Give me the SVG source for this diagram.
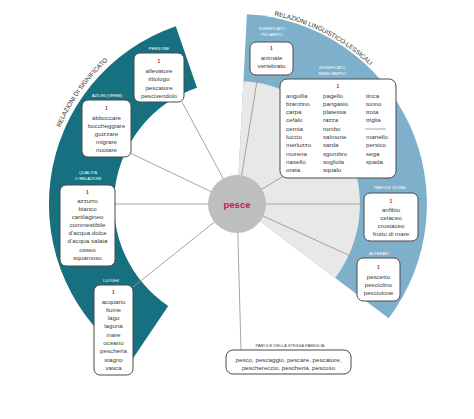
<svg xmlns="http://www.w3.org/2000/svg" width="474" height="419" viewBox="0 0 474 419">
<defs>
<style>
.box{fill:#fff;stroke:#4a4a4a;stroke-width:1}
.t{font-family:"Liberation Sans",Arial,sans-serif;font-size:6.2px;fill:#3a3a3a;text-anchor:middle}
.l{font-family:"Liberation Sans",Arial,sans-serif;font-size:6.2px;fill:#3a3a3a}
.n{font-family:"Liberation Sans",Arial,sans-serif;font-size:5px;fill:#c8102e;text-anchor:middle;font-weight:bold}
.lab{font-family:"Liberation Sans",Arial,sans-serif;font-size:4.2px;fill:#fff;text-anchor:middle}
.labd{font-family:"Liberation Sans",Arial,sans-serif;font-size:4.2px;fill:#444;text-anchor:middle}
.title{font-family:"Liberation Sans",Arial,sans-serif;font-size:6.3px;fill:#2a2a2a}
.conn{stroke:#9a9a9a;stroke-width:0.9;fill:none}
</style>
<path id="arcL" d="M59.4,129.4 A192,192 0 0 1 140.5,36.9"/>
<path id="arcR" d="M270.3,14.9 A192,192 0 0 1 384.1,80.6"/>
</defs>
<rect width="474" height="419" fill="#fff"/>
<g id="bands">
<path d="M131.9,359.9 A188,188 0 0 1 175.8,26.2 L197.0,87.7 A123,123 0 0 0 168.2,306.0 Z" fill="#16707f"/>
<path d="M237,204 L246.9,14.3 A190,190 0 0 1 388.7,318.3 Z" fill="#7eafcb"/>
<path d="M237,204 L243.4,81.2 A123,123 0 0 1 335.2,278.0 Z" fill="#e8e8e8"/>
<text class="title"><textPath href="#arcL" startOffset="2">RELAZIONI DI SIGNIFICATO</textPath></text>
<text class="title"><textPath href="#arcR" startOffset="4">RELAZIONI LINGUISTICO-LESSICALI</textPath></text>
</g>
<g id="connectors">
<path class="conn" d="M237,204 L182,102"/>
<path class="conn" d="M237,204 L130,153"/>
<path class="conn" d="M237,204 L115,204"/>
<path class="conn" d="M237,204 L133,287"/>
<path class="conn" d="M237,204 L241,350"/>
<path class="conn" d="M237,204 L258,75"/>
<path class="conn" d="M237,204 L282,177"/>
<path class="conn" d="M237,204 L364,204"/>
<path class="conn" d="M237,204 L357,259"/>
</g>
<g id="persone">
<text class="lab" x="159" y="49.5">PERSONE</text>
<rect class="box" x="134" y="53" width="50" height="49" rx="6"/>
<text class="n" x="159" y="63">1</text>
<text class="t" x="159" y="73">allevatore</text>
<text class="t" x="159" y="81">ittiologo</text>
<text class="t" x="159" y="89.5">pescatore</text>
<text class="t" x="159" y="98">pescivendolo</text>
</g>
<g id="azioni">
<text class="lab" x="107" y="97">AZIONI (VERBI)</text>
<rect class="box" x="82" y="100" width="49" height="57" rx="6"/>
<text class="n" x="106.5" y="110">1</text>
<text class="t" x="106.5" y="119.5">abboccare</text>
<text class="t" x="106.5" y="127.5">boccheggiare</text>
<text class="t" x="106.5" y="136">guizzare</text>
<text class="t" x="106.5" y="144">migrare</text>
<text class="t" x="106.5" y="152">nuotare</text>
</g>
<g id="qualita">
<text class="lab" x="88" y="173.5">QUALITÀ</text>
<text class="lab" x="88" y="179.5">O RELAZIONI</text>
<rect class="box" x="60" y="185" width="55" height="81" rx="6"/>
<text class="n" x="87.5" y="193.5">1</text>
<text class="t" x="87.5" y="202.5">azzurro</text>
<text class="t" x="87.5" y="210.5">bianco</text>
<text class="t" x="87.5" y="219">cartilagineo</text>
<text class="t" x="87.5" y="227">commestibile</text>
<text class="t" x="87.5" y="235">d’acqua dolce</text>
<text class="t" x="87.5" y="243">d’acqua salata</text>
<text class="t" x="87.5" y="251.5">osseo</text>
<text class="t" x="87.5" y="260">squamoso</text>
</g>
<g id="luoghi">
<text class="lab" x="111" y="281.5">LUOGHI</text>
<rect class="box" x="94" y="285" width="39" height="90" rx="6"/>
<text class="n" x="113.5" y="294">1</text>
<text class="t" x="113.5" y="303.5">acquario</text>
<text class="t" x="113.5" y="311.5">fiume</text>
<text class="t" x="113.5" y="320">lago</text>
<text class="t" x="113.5" y="328">laguna</text>
<text class="t" x="113.5" y="336.5">mare</text>
<text class="t" x="113.5" y="345">oceano</text>
<text class="t" x="113.5" y="353">pescheria</text>
<text class="t" x="113.5" y="361.5">stagno</text>
<text class="t" x="113.5" y="370">vasca</text>
</g>
<g id="piu-ampio">
<text class="lab" x="272" y="30">SIGNIFICATO</text>
<text class="lab" x="272" y="35.5">PIÙ AMPIO</text>
<rect class="box" x="250" y="42" width="43" height="33" rx="6"/>
<text class="n" x="271.5" y="50">1</text>
<text class="t" x="271.5" y="59.5">animale</text>
<text class="t" x="271.5" y="67.5">vertebrato</text>
</g>
<g id="meno-ampio">
<text class="lab" x="332" y="68.5">SIGNIFICATO</text>
<text class="lab" x="332" y="74.5">MENO AMPIO</text>
<rect class="box" x="280" y="79" width="116" height="99" rx="7"/>
<text class="n" x="338" y="87.5">1</text>
<text class="l" x="286" y="97.5">anguilla</text>
<text class="l" x="286" y="105.8">branzino</text>
<text class="l" x="286" y="114.1">carpa</text>
<text class="l" x="286" y="122.4">cefalo</text>
<text class="l" x="286" y="130.7">cernia</text>
<text class="l" x="286" y="139">luccio</text>
<text class="l" x="286" y="147.3">merluzzo</text>
<text class="l" x="286" y="155.6">murena</text>
<text class="l" x="286" y="163.9">nasello</text>
<text class="l" x="286" y="172.2">orata</text>
<text class="l" x="323" y="97.5">pagello</text>
<text class="l" x="323" y="105.8">pangasio</text>
<text class="l" x="323" y="114.1">platessa</text>
<text class="l" x="323" y="122.4">razza</text>
<text class="l" x="323" y="130.7">rombo</text>
<text class="l" x="323" y="139">salmone</text>
<text class="l" x="323" y="147.3">sarda</text>
<text class="l" x="323" y="155.6">sgombro</text>
<text class="l" x="323" y="163.9">sogliola</text>
<text class="l" x="323" y="172.2">squalo</text>
<text class="l" x="366" y="97.5">tinca</text>
<text class="l" x="366" y="105.8">tonno</text>
<text class="l" x="366" y="114.1">trota</text>
<text class="l" x="366" y="122.4">triglia</text>
<line x1="365" y1="129" x2="386" y2="129" stroke="#666" stroke-width="0.6"/>
<text class="l" x="366" y="139">martello</text>
<text class="l" x="366" y="147.3">persico</text>
<text class="l" x="366" y="155.6">sega</text>
<text class="l" x="366" y="163.9">spada</text>
</g>
<g id="parole-vicine">
<text class="lab" x="390" y="188.5">PAROLE VICINE</text>
<rect class="box" x="364" y="193" width="54" height="48" rx="6"/>
<text class="n" x="391" y="203">1</text>
<text class="t" x="391" y="211.5">anfibio</text>
<text class="t" x="391" y="219.5">cetaceo</text>
<text class="t" x="391" y="228">crostaceo</text>
<text class="t" x="391" y="236">frutto di mare</text>
</g>
<g id="alterati">
<text class="lab" x="379" y="255">ALTERATI</text>
<rect class="box" x="357" y="258" width="43" height="43" rx="6"/>
<text class="n" x="378.5" y="269">1</text>
<text class="t" x="378.5" y="278.5">pescetto</text>
<text class="t" x="378.5" y="286.5">pesciolino</text>
<text class="t" x="378.5" y="295">pesciolone</text>
</g>
<g id="famiglia">
<text class="labd" x="290" y="346.5">PAROLE DELLA STESSA FAMIGLIA</text>
<rect class="box" x="226" y="350" width="125" height="24" rx="7"/>
<text class="t" x="288.5" y="362">pesco, pescaggio, pescare, pescatore,</text>
<text class="t" x="288.5" y="370">peschereccio, pescheria, pescoso</text>
</g>
<g id="pesce">
<circle cx="237" cy="204" r="29" fill="#bebec0"/>
<text x="237" y="207.5" text-anchor="middle" font-family="'Liberation Sans',Arial,sans-serif" font-size="9.5" font-weight="bold" fill="#c8174a">pesce</text>
</g>
</svg>
